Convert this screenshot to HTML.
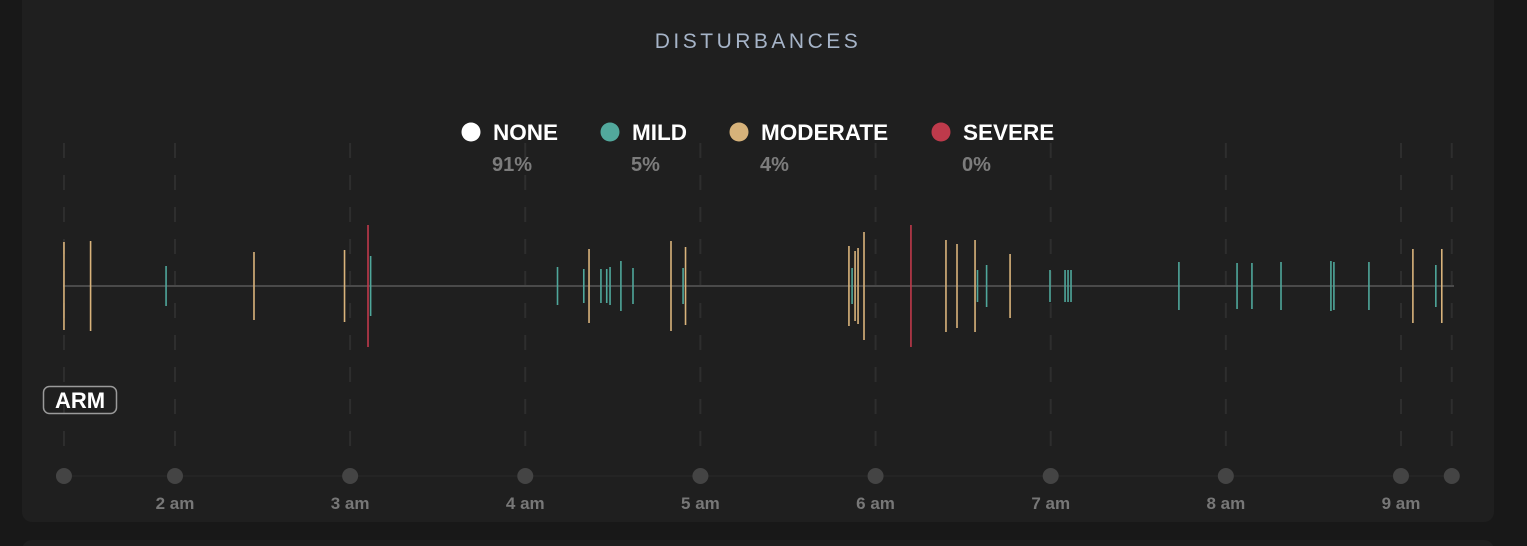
<!DOCTYPE html>
<html><head><meta charset="utf-8"><style>
html,body{margin:0;padding:0;background:#181818;width:1527px;height:546px;overflow:hidden;font-family:"Liberation Sans",sans-serif}
svg{display:block}
</style></head><body>
<svg width="1527" height="546" xmlns="http://www.w3.org/2000/svg">
<rect x="22" y="-12" width="1472" height="534" rx="10" fill="#1f1f1f"/>
<rect x="22" y="540" width="1472" height="30" rx="10" fill="#1f1f1f"/>
<text x="758" y="48" text-anchor="middle" fill="#a6b4c8" font-size="21" letter-spacing="3.5">DISTURBANCES</text>
<g id="grid"></g>
<g id="legend"></g>
<line x1="63" y1="286" x2="1454" y2="286" stroke="#4a4a4a" stroke-width="2"/>
<g id="bars"></g>
<line x1="63" y1="476" x2="1451" y2="476" stroke="#2a2a2a" stroke-width="1"/>
<g id="axis"></g>
<g>
<rect x="43.5" y="386.5" width="73" height="27" rx="6" fill="none" stroke="#9a9a9a" stroke-width="1.5"/>
<text x="80" y="408" text-anchor="middle" fill="#fff" font-size="22" font-weight="bold">ARM</text>
</g>
</svg>
<script>
const legendLabels=["NONE","MILD","MODERATE","SEVERE"];
const legendPercents=["91%","5%","4%","0%"];
const legendColors=["#ffffff","#52a89c","#d6b27a","#be3a4b"];
const tickHours=[2,3,4,5,6,7,8,9];
const tickLabels=["2 am","3 am","4 am","5 am","6 am","7 am","8 am","9 am"];
const startHour=1.366, endHour=9.29;
const eventTimes=[1.366,1.518,1.949,2.451,2.968,3.102,3.117,4.184,4.334,4.364,4.432,4.465,4.484,4.546,4.615,4.832,4.901,4.915,5.848,5.866,5.883,5.900,5.934,6.202,6.402,6.465,6.568,6.582,6.634,6.768,6.996,7.082,7.099,7.116,7.732,8.064,8.149,8.315,8.600,8.617,8.817,9.068,9.199,9.233];
const eventLevels=[2,2,1,2,2,3,1,1,1,2,1,1,1,1,1,2,1,2,2,1,2,2,2,3,2,2,2,1,1,2,1,1,1,1,1,1,1,1,1,1,1,2,1,2];
const eventSizes=[44,45,20,34,36,61,30,19,17,37,17,17,19,25,18,45,18,39,40,18,35,38,54,61,46,42,46,16,21,32,16,16,16,16,24,23,23,24,25,24,24,37,21,37];
const NS="http://www.w3.org/2000/svg";
const x=h=>175+(h-2)*175.14;
const cy=286;
function mk(tag,attrs,parent){const e=document.createElementNS(NS,tag);for(const k in attrs)e.setAttribute(k,attrs[k]);parent.appendChild(e);return e;}
const lg=document.getElementById('legend');
const dotX=[471,610,739,941];
legendLabels.forEach((l,i)=>{
  const c=mk('circle',{cx:dotX[i],cy:132,r:9.5,fill:legendColors[i]},lg);
  
  
  const t=mk('text',{x:dotX[i]+22,y:140,fill:'#fff','font-size':22.5,'font-weight':'bold'},lg);
  t.textContent=l;
  
  
  const p=mk('text',{x:dotX[i]+21,y:171,fill:'#7c7c7c','font-size':20,'font-weight':'bold'},lg);
  p.textContent=legendPercents[i];
  
  
});
const grid=document.getElementById('grid');
const gridHours=[startHour].concat(tickHours,[endHour]);
gridHours.forEach(h=>{
  const gl=mk('line',{x1:x(h),y1:143,x2:x(h),y2:462,stroke:'#2e2e2e','stroke-width':2,'stroke-dasharray':'15 17'},grid);
  
  
});
const bars=document.getElementById('bars');
const evColors=["#fff","#4fa79b","#d9b37b","#c0394b"];
eventTimes.forEach((t,i)=>{
  const s=eventSizes[i];
  const b=mk('line',{x1:x(t),x2:x(t),y1:cy-s,y2:cy+s,stroke:evColors[eventLevels[i]],'stroke-width':1.6},bars);
  
  
});
const ax=document.getElementById('axis');
gridHours.forEach(h=>{
  const d=mk('circle',{cx:x(h),cy:476,r:8,fill:'#444'},ax);
  
  
});
tickHours.forEach((h,i)=>{
  const t=mk('text',{x:x(h),y:509,'text-anchor':'middle',fill:'#777','font-size':17,'font-weight':'bold'},ax);
  t.textContent=tickLabels[i];
  
  
});
</script>
</body></html>
